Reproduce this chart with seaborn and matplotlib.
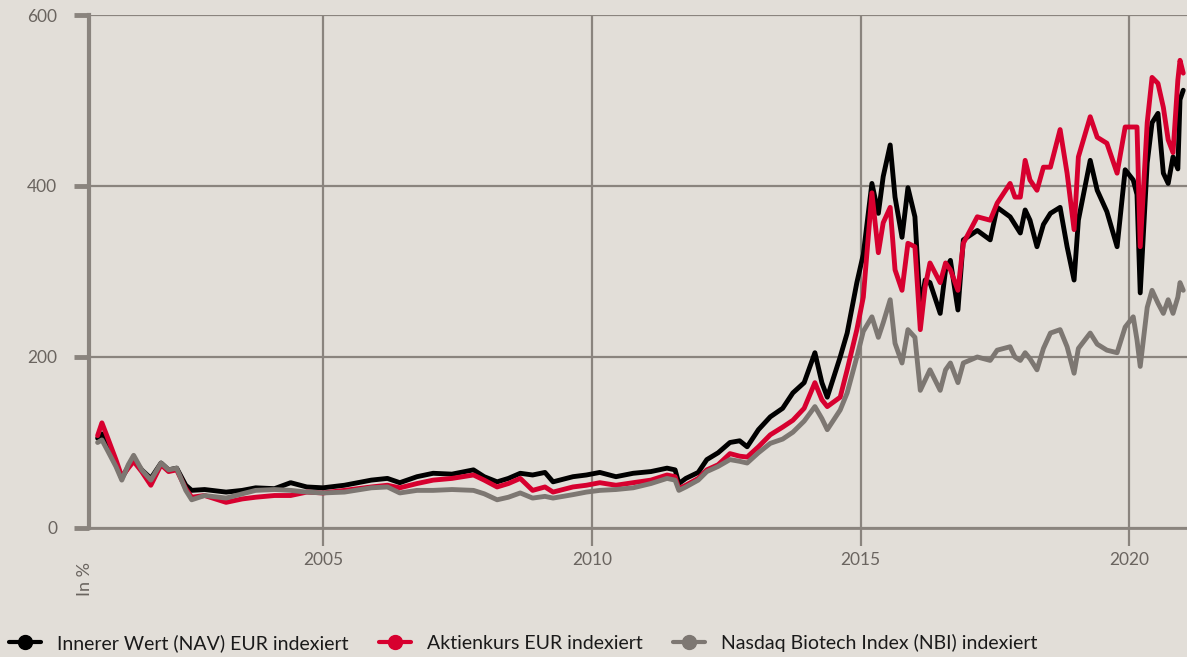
import matplotlib
matplotlib.use("Agg")
import matplotlib.pyplot as plt
import seaborn as sns
import pandas as pd
from matplotlib.lines import Line2D

# decimal years
years = [2000.81, 2000.89, 2001.00, 2001.15, 2001.26, 2001.38, 2001.48, 2001.63, 2001.80, 2001.99,
         2002.13, 2002.28, 2002.45, 2002.56, 2002.80, 2003.20, 2003.50, 2003.75, 2004.10, 2004.40,
         2004.70, 2005.00, 2005.40, 2005.90, 2006.20, 2006.43, 2006.75, 2007.05, 2007.40, 2007.80,
         2008.00, 2008.24, 2008.45, 2008.67, 2008.90, 2009.13, 2009.28, 2009.65, 2009.90, 2010.15,
         2010.45, 2010.77, 2011.10, 2011.40, 2011.55, 2011.62, 2011.75, 2011.98, 2012.14, 2012.35,
         2012.57, 2012.75, 2012.89, 2013.10, 2013.32, 2013.55, 2013.74, 2013.95, 2014.15, 2014.28,
         2014.38, 2014.62, 2014.75, 2014.93, 2015.05, 2015.21, 2015.33, 2015.42, 2015.55, 2015.64,
         2015.77, 2015.88, 2016.01, 2016.11, 2016.20, 2016.29, 2016.48, 2016.58, 2016.67, 2016.81,
         2016.91, 2017.17, 2017.41, 2017.54, 2017.78, 2017.87, 2017.97, 2018.06, 2018.15, 2018.28,
         2018.40, 2018.53, 2018.71, 2018.84, 2018.97, 2019.05, 2019.27, 2019.40, 2019.58, 2019.77,
         2019.92, 2020.07, 2020.14, 2020.20, 2020.33, 2020.42, 2020.53, 2020.63, 2020.72, 2020.81,
         2020.90, 2020.94, 2021.00]

nav = [105, 110, 95, 75, 58, 72, 80, 68, 58, 76,
       68, 70, 50, 44, 45, 42, 44, 47, 46, 53,
       48, 47, 50, 56, 58, 53, 60, 64, 63, 68,
       60, 54, 58, 64, 62, 65, 54, 60, 62, 65,
       60, 64, 66, 70, 68, 52, 58, 65, 80, 88,
       100, 102, 95, 115, 130, 140, 158, 170, 205, 170,
       153, 200, 228, 287, 320, 403, 368, 411, 448, 387,
       340, 398, 364, 255, 290, 287, 251, 302, 313, 255,
       337, 348, 337, 375, 364, 355, 345, 372, 360, 329,
       355, 368, 375, 329, 290, 360, 430, 395, 370, 329,
       419, 407, 390, 275, 427, 474, 485, 415, 403, 434,
       420, 501, 512]

aktie = [108, 123, 105, 80, 60, 70, 78, 66, 50, 74,
         66, 68, 46, 36, 38, 30, 34, 36, 38, 38,
         42, 41, 44, 48, 50, 47, 52, 56, 58, 62,
         56, 48, 52, 58, 44, 48, 42, 48, 50, 53,
         50, 53, 56, 62, 60, 46, 50, 58, 68, 74,
         87, 84, 83, 95, 109, 118, 126, 140, 170, 150,
         142, 153, 185, 232, 270, 392, 322, 357, 375, 302,
         278, 333, 329, 232, 282, 310, 287, 310, 302, 278,
         333, 364, 360, 380, 403, 387, 387, 430, 407, 395,
         422, 422, 466, 415, 349, 434, 481, 457, 450, 415,
         469, 469, 469, 329, 474, 527, 520, 492, 454, 439,
         524, 547, 532]

nbi = [100, 103, 90, 72, 56, 74, 85, 68, 56, 76,
       68, 70, 44, 33, 38, 35, 40, 44, 45, 44,
       42, 41, 42, 47, 48, 41, 44, 44, 45, 44,
       40, 33, 36, 41, 35, 37, 35, 39, 42, 44,
       45, 47, 52, 58, 56, 44, 48, 56, 66, 72,
       80, 78, 76, 88, 99, 104, 112, 125, 142, 128,
       115, 138, 158, 200, 230, 247, 223, 240, 267, 216,
       193, 232, 223, 161, 173, 185, 161, 185, 193, 170,
       193, 200, 196, 208, 212, 200, 196, 205, 198, 185,
       210, 228, 232, 212, 181, 210, 228, 215, 208, 205,
       235, 247, 220, 189, 258, 278, 263, 251, 267, 251,
       270, 287, 278]

labels = ["Innerer Wert (NAV) EUR indexiert", "Aktienkurs EUR indexiert",
          "Nasdaq Biotech Index (NBI) indexiert"]
colors = ["#000000", "#d7002f", "#7d7772"]
year_ticks = [2005, 2010, 2015, 2020]
value_ticks = [0, 200, 400, 600]

BG = "#e2ded8"
GRID = "#8a847e"
TXT = "#6a645f"

sns.set_theme(style="white")
plt.rcParams["font.family"] = ["Lato", "DejaVu Sans"]

fig = plt.figure(figsize=(11.87, 6.57), dpi=100, facecolor=BG)
ax = fig.add_axes([89 / 1187, 1 - 528 / 657, 1 - 89 / 1187, (528 - 15) / 657])
ax.set_facecolor(BG)

df = pd.DataFrame({"year": years, "nav": nav, "aktie": aktie, "nbi": nbi})
for col, c in zip(["nav", "aktie", "nbi"], colors):
    sns.lineplot(data=df, x="year", y=col, ax=ax, color=c, lw=3.5,
                 solid_joinstyle="round", solid_capstyle="round", zorder=3)

ax.set_xlim(2000.65, 2021.07)
ax.set_ylim(0, 600)
ax.set_xticks(year_ticks)
ax.set_xticklabels([str(y) for y in year_ticks])
ax.set_yticks(value_ticks)
ax.set_yticklabels([str(v) for v in value_ticks])
ax.set_xlabel("")
ax.set_ylabel("")

ax.grid(True, color=GRID, lw=1.6, zorder=1)
ax.set_axisbelow(True)
for s in ["top", "right"]:
    ax.spines[s].set_visible(False)
ax.spines["left"].set_color(GRID)
ax.spines["left"].set_linewidth(3)
ax.spines["bottom"].set_color(GRID)
ax.spines["bottom"].set_linewidth(2)

ax.tick_params(axis="y", direction="out", length=11, width=3.5, color=GRID,
               labelsize=12.5, labelcolor=TXT, pad=12, left=True)
ax.tick_params(axis="x", direction="out", length=13, width=1.6, color=GRID,
               labelsize=12.5, labelcolor=TXT, pad=4, bottom=True)

fig.text(85 / 1187, 1 - 579 / 657, "In %", rotation=90, ha="center", va="center",
         fontsize=13, color=TXT)

handles = [Line2D([0], [0], color=c, lw=3, marker="o", markersize=10) for c in colors]
fig.legend(handles, labels, loc="center left", bbox_to_anchor=(0.001, 1 - 643 / 657), ncol=3,
           frameon=False, fontsize=14, handlelength=1.65, handletextpad=0.82,
           columnspacing=1.55, borderaxespad=0, labelcolor="#1a1a1a")

fig.savefig("out.png", dpi=100, facecolor=BG)
